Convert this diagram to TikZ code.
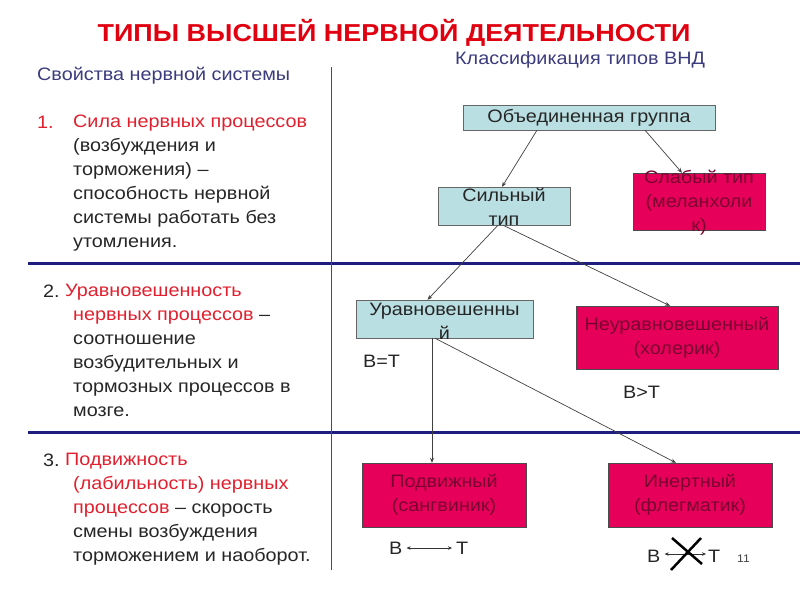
\documentclass[tikz,border=0pt]{standalone}
\usepackage{fontspec}
\setmainfont{Liberation Sans}[FakeStretch=1.1]
\usetikzlibrary{arrows.meta}
\definecolor{titlered}{HTML}{E00010}
\definecolor{headblue}{HTML}{3B3B7D}
\definecolor{textred}{HTML}{E0202E}
\definecolor{boxblue}{HTML}{BADFE2}
\definecolor{boxred}{HTML}{E6005A}
\definecolor{darkred}{HTML}{7A0030}
\definecolor{rulenavy}{HTML}{1E1E7E}
\begin{document}
\begin{tikzpicture}[x=1pt, y=-1pt, font=\fontsize{18}{24}\selectfont,
  bluebox/.style={draw=gray!80!black, fill=boxblue, text=black!85, inner sep=0pt},
  redbox/.style={draw=gray!60!black, fill=boxred, text=darkred, align=center, inner sep=0pt},
  boxtext/.style={align=center, inner sep=0pt},
  para/.style={align=left, anchor=north west, inner sep=0pt, text=black!85},
  conn/.style={draw=black!75, line width=0.7pt, -{Stealth[length=5pt, width=4pt]}},
  hrule/.style={draw=rulenavy, line width=3pt}]
\useasboundingbox (0,0) rectangle (800,600);

% headings
\node[font=\fontsize{24.5}{30}\selectfont\bfseries, text=titlered] (title) at (394,33) {ТИПЫ ВЫСШЕЙ НЕРВНОЙ ДЕЯТЕЛЬНОСТИ};
\node[anchor=west, text=headblue, inner sep=0pt] (props) at (37,76) {Свойства нервной системы};
\node[anchor=west, text=headblue, inner sep=0pt] (classif) at (455,60) {Классификация типов ВНД};

% rules
\draw[hrule] (28,263) -- (800,263);
\draw[hrule] (28,432) -- (800,432);
\draw[gray!60!black] (331,67) -- (331,570);

% left column
\node[anchor=base west, inner sep=0pt, text=textred] (num1) at (37,128) {1.};
\node[para] (item1) at (73,115) {\textcolor{textred}{Сила нервных процессов}\\
(возбуждения и\\
торможения) \textendash\\
способность нервной\\
системы работать без\\
утомления.};

\node[anchor=base west, inner sep=0pt, text=black!85] (num2) at (43,297) {2.};
\node[para] (item2) at (65,284) {\textcolor{textred}{Уравновешенность}\\
\hspace*{8pt}\textcolor{textred}{нервных процессов} \textendash\\
\hspace*{8pt}соотношение\\
\hspace*{8pt}возбудительных и\\
\hspace*{8pt}тормозных процессов в\\
\hspace*{8pt}мозге.};

\node[anchor=base west, inner sep=0pt, text=black!85] (num3) at (43,466) {3.};
\node[para] (item3) at (65,453) {\textcolor{textred}{Подвижность}\\
\hspace*{8pt}\textcolor{textred}{(лабильность) нервных}\\
\hspace*{8pt}\textcolor{textred}{процессов} \textendash{} скорость\\
\hspace*{8pt}смены возбуждения\\
\hspace*{8pt}торможением и наоборот.};

% classification tree
\node[bluebox, minimum width=252pt, minimum height=25pt] (united) at (589,117.5) {Объединенная группа};
\node[bluebox, minimum width=132pt, minimum height=38pt] (strong) at (504,206) {};
\node[boxtext, text=black!85] (strongtext) at (504,207) {Сильный\\тип};
\node[redbox, minimum width=132pt, minimum height=57pt] (weak) at (699,201.5) {};
\node[boxtext, text=darkred] (weaktext) at (699,203) {Слабый тип\\(меланхоли\\к)};
\node[bluebox, minimum width=177pt, minimum height=38pt] (balanced) at (444.5,319) {};
\node[boxtext, text=black!85] (balancedtext) at (444.5,321) {Уравновешенны\\й};
\node[redbox, minimum width=202pt, minimum height=63pt] (unbalanced) at (677,337.5) {Неуравновешенный\\(холерик)};
\node[redbox, minimum width=164pt, minimum height=64pt] (mobile) at (444,495) {Подвижный\\(сангвиник)};
\node[redbox, minimum width=164pt, minimum height=64pt] (inert) at (690,495) {Инертный\\(флегматик)};

\draw[conn] ([xshift=-52pt]united.south) -- ([xshift=-2pt]strong.north);
\draw[conn] ([xshift=56pt]united.south) -- ([xshift=-17pt]weak.north);
\draw[conn] ([xshift=-6pt]strong.south) -- ([xshift=-17pt]balanced.north);
\draw[conn] ([xshift=-1pt]strong.south) -- ([xshift=-7pt]unbalanced.north);
\draw[conn] ([xshift=-12.5pt]balanced.south) -- ([xshift=-12pt]mobile.north);
\draw[conn] ([xshift=-9.5pt]balanced.south) -- ([xshift=-14pt]inert.north);

% relations
\node[anchor=west, inner sep=0pt, text=black!85] (eq) at (363,361) {В=Т};
\node[anchor=west, inner sep=0pt, text=black!85] (gt) at (623,392) {В>Т};
\node[anchor=west, inner sep=0pt, text=black!85] (b1) at (389,548) {В};
\node[anchor=west, inner sep=0pt, text=black!85] (t1) at (456,548) {Т};
\draw[black!80, line width=0.6pt, {Stealth[length=4pt, width=3.5pt]}-{Stealth[length=4pt, width=3.5pt]}, shorten <=4pt, shorten >=4pt] (b1) -- (t1);
\node[anchor=west, inner sep=0pt, text=black!85] (b2) at (647,556) {В};
\node[anchor=west, inner sep=0pt, text=black!85] (t2) at (708,556) {Т};
\draw[black!80, line width=0.6pt, {Stealth[length=4pt, width=3.5pt]}-{Stealth[length=4pt, width=3.5pt]}, shorten <=4pt, shorten >=2pt] ([yshift=2pt]b2.east) -- ([yshift=2pt]t2.west);
\draw[line width=2.5pt] (672,538) -- (702,564);
\draw[line width=2.5pt] (701,538) -- (671,570);
\node[anchor=west, inner sep=0pt, font=\fontsize{11}{13}\selectfont, text=black!75] (pagenum) at (737,559) {11};
\end{tikzpicture}
\end{document}
